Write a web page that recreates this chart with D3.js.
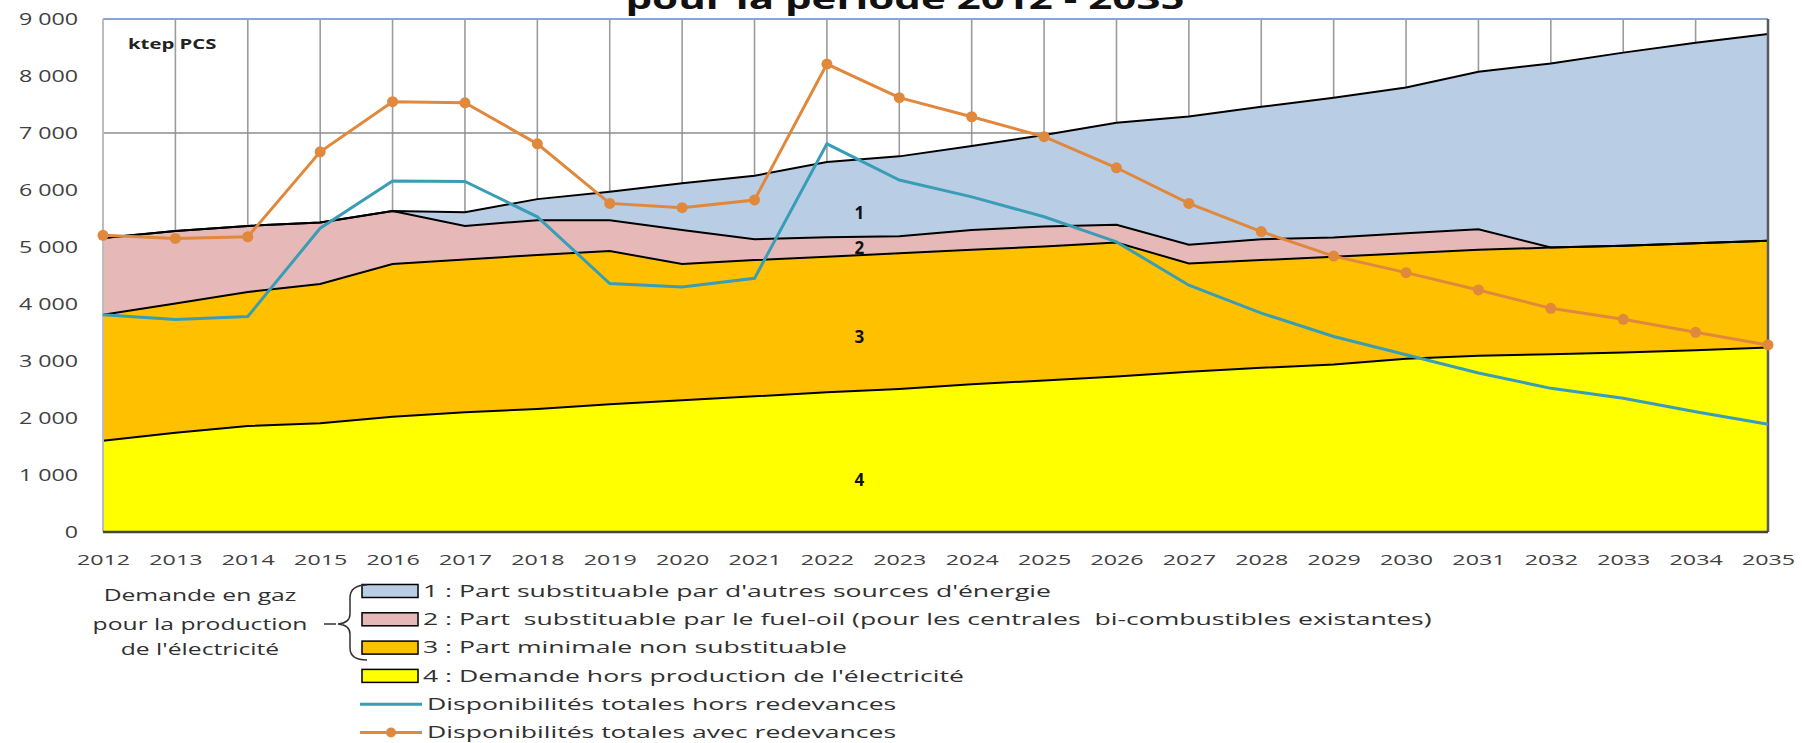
<!DOCTYPE html>
<html>
<head>
<meta charset="utf-8">
<script src="https://cdn.jsdelivr.net/npm/d3@7"></script>
<style>
  body { margin: 0; background: #fff; }
  svg text { font-family: "Open Sans", sans-serif; }
</style>
</head>
<body>
<div id="chart"></div>
<script>
// annees et valeurs (ktep PCS)
const years = [2012, 2013, 2014, 2015, 2016, 2017, 2018, 2019, 2020, 2021, 2022, 2023,
               2024, 2025, 2026, 2027, 2028, 2029, 2030, 2031, 2032, 2033, 2034, 2035];
// 4 : demande hors production de l'electricite
const part4 = [1600, 1740, 1860, 1910, 2020, 2100, 2160, 2240, 2310, 2380, 2450, 2510,
               2590, 2660, 2730, 2810, 2880, 2940, 3040, 3090, 3120, 3150, 3190, 3235];
// 3 : part minimale non substituable
const part3 = [2210, 2270, 2350, 2440, 2680, 2680, 2700, 2690, 2390, 2390, 2380, 2380,
               2360, 2350, 2350, 1900, 1890, 1890, 1850, 1860, 1870, 1870, 1875, 1875];
// 2 : part substituable par le fuel-oil
const part2 = [1350, 1270, 1160, 1080, 930, 590, 610, 540, 600, 365, 340, 300,
               350, 350, 310, 330, 365, 335, 350, 360, 0, 0, 0, 0];
// 1 : part substituable par d'autres sources
const part1 = [0, 0, 0, 0, 0, 240, 370, 500, 820, 1115, 1320, 1400,
               1470, 1605, 1790, 2250, 2325, 2455, 2560, 2765, 3230, 3390, 3520, 3625];
const dispoHors = [3810, 3730, 3780, 5330, 6160, 6150, 5530, 4360, 4300, 4450, 6810, 6175,
                   5880, 5530, 5090, 4330, 3840, 3430, 3110, 2790, 2520, 2345, 2110, 1890];
const dispoAvec = [5205, 5150, 5180, 6670, 7550, 7530, 6810, 5765, 5690, 5825, 8210, 7620,
                   7285, 6935, 6390, 5765, 5270, 4840, 4550, 4246, 3924, 3731, 3503, 3281];
const yTicks = [0, 1000, 2000, 3000, 4000, 5000, 6000, 7000, 8000, 9000];
const hGrid = [7000];

const leftText = ["Demande en gaz", "pour la production", "de l'électricité"];
const legendItems = [
  { label: "1 : Part substituable par d'autres sources d'énergie", type: "box", color: "#b9cde5" },
  { label: "2 : Part  substituable par le fuel-oil (pour les centrales  bi-combustibles existantes)", type: "box", color: "#e6b9b8" },
  { label: "3 : Part minimale non substituable", type: "box", color: "#ffc000" },
  { label: "4 : Demande hors production de l'électricité", type: "box", color: "#ffff00" },
  { label: "Disponibilités totales hors redevances", type: "line", color: "#3a9db6" },
  { label: "Disponibilités totales avec redevances", type: "marker", color: "#e0883c" }
];

const width = 1802, height = 743;
const svg = d3.select("#chart").append("svg")
  .attr("width", width)
  .attr("height", height);

const x = d3.scaleLinear().domain([2012, 2035]).range([103, 1768]);
const y = d3.scaleLinear().domain([0, 9000]).range([532, 19]);

// etire le texte horizontalement (l'image d'origine est elargie)
function stretch(sel, k) {
  sel.each(function () {
    const w = this.getComputedTextLength();
    d3.select(this).attr("textLength", w * k).attr("lengthAdjust", "spacingAndGlyphs");
  });
}

// titre (coupe en haut, comme sur l'original)
const title = svg.append("text")
  .attr("x", 905)
  .attr("y", 9)
  .attr("text-anchor", "middle")
  .attr("font-size", "29px")
  .attr("font-weight", "bold")
  .attr("fill", "#111")
  .text("pour la période 2012 - 2035");
stretch(title, 1.45);

// grille
svg.append("g").selectAll("line.v")
  .data(years.slice(1, -1))
  .enter().append("line")
  .attr("x1", d => x(d)).attr("x2", d => x(d))
  .attr("y1", y(9000)).attr("y2", y(0))
  .style("stroke", "#9c9c9c")
  .style("stroke-width", 1.6);

svg.append("g").selectAll("line.h")
  .data(hGrid)
  .enter().append("line")
  .attr("x1", x(2012)).attr("x2", x(2035))
  .attr("y1", d => y(d)).attr("y2", d => y(d))
  .style("stroke", "#8c8c8c")
  .style("stroke-width", 1.5);

// aires empilees
const table = years.map((yr, i) => ({ year: yr, p4: part4[i], p3: part3[i], p2: part2[i], p1: part1[i] }));
const stacked = d3.stack().keys(["p4", "p3", "p2", "p1"])(table);
const fills = { p4: "#ffff00", p3: "#ffc000", p2: "#e6b9b8", p1: "#b9cde5" };

const area = d3.area()
  .x(d => x(d.data.year))
  .y0(d => y(d[0]))
  .y1(d => y(d[1]));

const topLine = d3.line()
  .x(d => x(d.data.year))
  .y(d => y(d[1]));

svg.append("g").selectAll("path.area")
  .data(stacked)
  .enter().append("path")
  .attr("d", area)
  .style("fill", d => fills[d.key]);

svg.append("g").selectAll("path.top")
  .data(stacked)
  .enter().append("path")
  .attr("d", topLine)
  .style("fill", "none")
  .style("stroke", "#000")
  .style("stroke-width", 2);

// cadre
svg.append("line")
  .attr("x1", x(2012)).attr("x2", x(2035))
  .attr("y1", y(9000)).attr("y2", y(9000))
  .style("stroke", "#86a6d6").style("stroke-width", 2);
svg.append("line")
  .attr("x1", x(2012)).attr("x2", x(2012))
  .attr("y1", y(9000)).attr("y2", y(0))
  .style("stroke", "#bdbdbd").style("stroke-width", 2);
svg.append("line")
  .attr("x1", x(2035)).attr("x2", x(2035))
  .attr("y1", y(9000)).attr("y2", y(0))
  .style("stroke", "#5a5a5a").style("stroke-width", 2.5);
svg.append("line")
  .attr("x1", x(2012)).attr("x2", x(2035))
  .attr("y1", y(0)).attr("y2", y(0))
  .style("stroke", "#444").style("stroke-width", 2.5);

// courbes de disponibilites
const valLine = d3.line()
  .x((d, i) => x(years[i]))
  .y(d => y(d));

svg.append("path")
  .attr("d", valLine(dispoHors))
  .style("fill", "none")
  .style("stroke", "#3a9db6")
  .style("stroke-width", 3);

svg.append("path")
  .attr("d", valLine(dispoAvec))
  .style("fill", "none")
  .style("stroke", "#e0883c")
  .style("stroke-width", 3);

svg.append("g").selectAll("circle")
  .data(dispoAvec)
  .enter().append("circle")
  .attr("cx", (d, i) => x(years[i]))
  .attr("cy", d => y(d))
  .attr("r", 5.5)
  .style("fill", "#e0883c");

// axes
const fmt = d => d3.format(",")(d).replace(",", " ");
const yAxis = svg.append("g")
  .attr("transform", "translate(82,0)")
  .call(d3.axisLeft(y).tickValues(yTicks).tickFormat(fmt).tickSize(0).tickPadding(4));
yAxis.select(".domain").remove();
yAxis.selectAll("text")
  .attr("font-size", "16px")
  .attr("fill", "#404040");
stretch(yAxis.selectAll("text"), 1.45);

const xAxis = svg.append("g")
  .attr("transform", "translate(0," + y(0) + ")")
  .call(d3.axisBottom(x).tickValues(years).tickFormat(d3.format("d")).tickSize(0).tickPadding(22));
xAxis.select(".domain").remove();
xAxis.selectAll("text")
  .attr("font-size", "15px")
  .attr("fill", "#404040");
stretch(xAxis.selectAll("text"), 1.55);

// unite
const unit = svg.append("text")
  .attr("x", x(2012) + 25)
  .attr("y", 49)
  .attr("font-size", "14px")
  .attr("font-weight", "bold")
  .attr("fill", "#222")
  .text("ktep PCS");
stretch(unit, 1.45);

// numeros des aires
const areaLabels = [["1", 5600], ["2", 4980], ["3", 3420], ["4", 910]];
svg.append("g").selectAll("text")
  .data(areaLabels)
  .enter().append("text")
  .attr("x", x(2022.45))
  .attr("y", d => y(d[1]))
  .attr("dy", "0.35em")
  .attr("text-anchor", "middle")
  .attr("font-size", "17px")
  .attr("font-weight", "bold")
  .attr("fill", "#111")
  .text(d => d[0]);

// legende
const lgY0 = 591, lgStep = 28.3;
const legend = svg.append("g");
const rows = legend.selectAll("g.row")
  .data(legendItems)
  .enter().append("g")
  .attr("transform", (d, i) => "translate(0," + (lgY0 + i * lgStep) + ")");

rows.filter(d => d.type === "box").append("rect")
  .attr("x", 362).attr("y", -6.5)
  .attr("width", 56).attr("height", 13)
  .style("fill", d => d.color)
  .style("stroke", "#000")
  .style("stroke-width", 1.5);

rows.filter(d => d.type !== "box").append("line")
  .attr("x1", 360).attr("x2", 422)
  .attr("y1", 0).attr("y2", 0)
  .style("stroke", d => d.color)
  .style("stroke-width", 3);

rows.filter(d => d.type === "marker").append("circle")
  .attr("cx", 391).attr("cy", 0).attr("r", 5)
  .style("fill", d => d.color);

const lgText = rows.append("text")
  .attr("x", d => d.type === "box" ? 423 : 427)
  .attr("dy", "0.35em")
  .attr("font-size", "16px")
  .attr("fill", "#303030")
  .style("white-space", "pre")
  .text(d => d.label);
stretch(lgText, 1.66);

const left = legend.selectAll("text.left")
  .data(leftText)
  .enter().append("text")
  .attr("x", 200)
  .attr("y", (d, i) => [601, 630, 655][i])
  .attr("text-anchor", "middle")
  .attr("font-size", "17px")
  .attr("fill", "#303030")
  .text(d => d);
stretch(left, 1.45);

legend.append("path")
  .attr("d", "M367,585 Q350,585 350,598 L350,614 Q350,623 338,624 Q350,625 350,634 L350,648 Q350,660 367,660 M324,624 L336,624")
  .style("fill", "none")
  .style("stroke", "#333")
  .style("stroke-width", 1.5);
</script>
</body>
</html>
